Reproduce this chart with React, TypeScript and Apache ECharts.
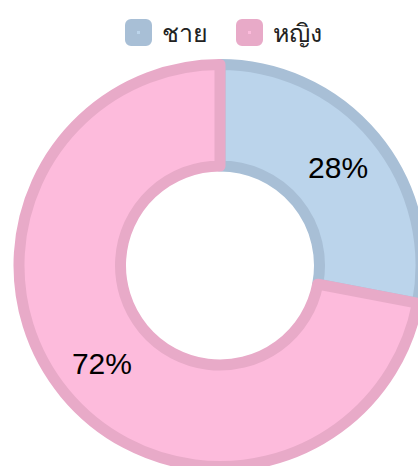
import React, { useEffect, useRef } from "react";
import * as echarts from "echarts";

const categories = ["ชาย", "หญิง"];
const values = [28, 72];
const fillColors = ["#bbd4eb", "#fdbbdc"];
const borderColors = ["#a8bfd6", "#e8aac8"];

export default function App() {
  const ref = useRef<HTMLDivElement>(null);
  useEffect(() => {
    const chart = echarts.init(ref.current!, null, { renderer: "svg" });
    chart.setOption({
      animation: false,
      legend: {
        top: 14,
        left: 120,
        icon: "rect",
        itemWidth: 15,
        itemHeight: 15,
        itemGap: 28,
        textStyle: {
          fontSize: 25,
          color: "#222",
          fontFamily: "sans-serif",
          padding: [0, 0, 0, 11],
        },
        data: categories.map((c, i) => ({
          name: c,
          icon: "rect",
          itemStyle: { color: fillColors[i], borderColor: borderColors[i], borderWidth: 12 },
        })),
      },
      series: [
        {
          type: "pie",
          center: [220, 265.5],
          radius: [99.5, 201],
          startAngle: 90,
          clockwise: true,
          label: {
            show: true,
            position: "inside",
            formatter: "{c}%",
            fontSize: 30,
            color: "#000",
            fontFamily: "Arial, Liberation Sans, sans-serif",
          },
          labelLine: { show: false },
          emphasis: { disabled: true },
          data: categories.map((c, i) => ({
            name: c,
            value: values[i],
            itemStyle: { color: fillColors[i], borderColor: borderColors[i], borderWidth: 11 },
          })),
        },
      ],
    });
    return () => chart.dispose();
  }, []);
  return (
    <div
      ref={ref}
      style={{ position: "absolute", left: 0, top: 0, width: 418, height: 466 }}
    />
  );
}
